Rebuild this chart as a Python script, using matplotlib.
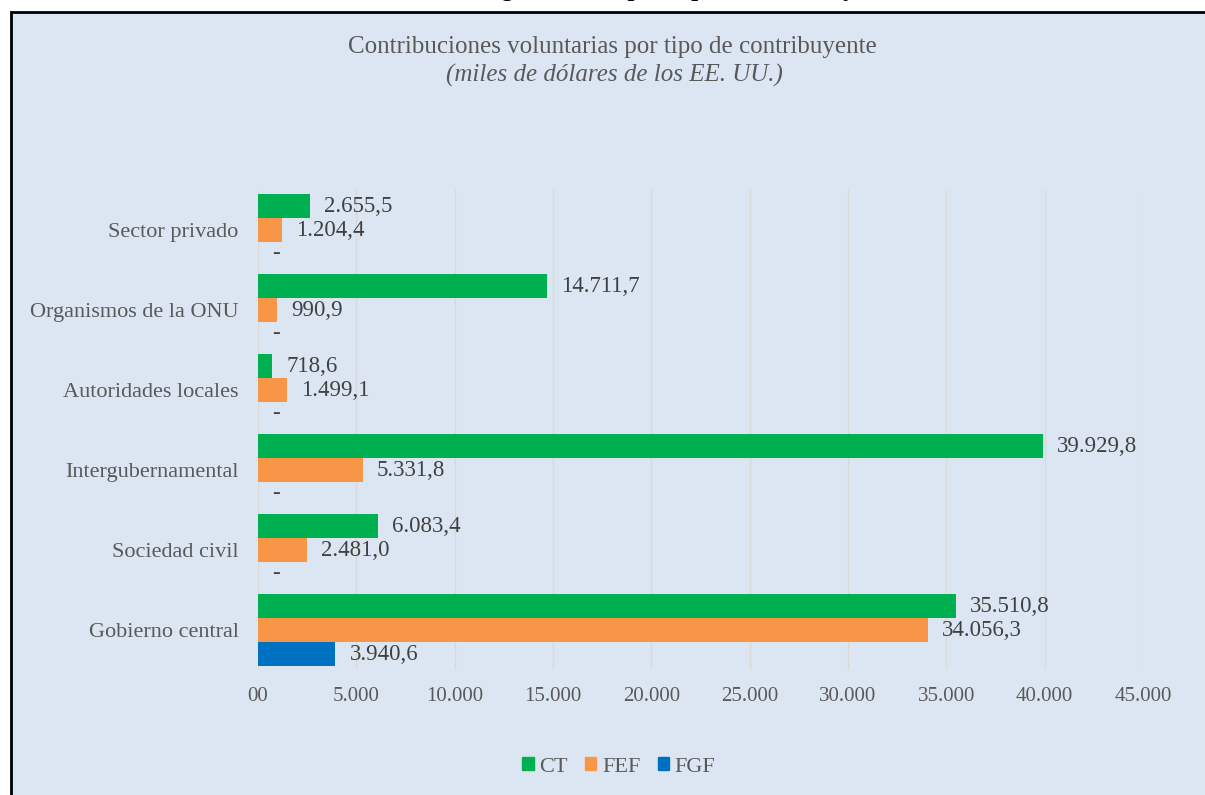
import matplotlib.pyplot as plt
from matplotlib.patches import Rectangle, Patch

plt.rcParams['font.family'] = ['Liberation Serif', 'DejaVu Serif']

categorias = ["Sector privado", "Organismos de la ONU", "Autoridades locales",
              "Intergubernamental", "Sociedad civil", "Gobierno central"]
ct = [2655.5, 14711.7, 718.6, 39929.8, 6083.4, 35510.8]
fef = [1204.4, 990.9, 1499.1, 5331.8, 2481.0, 34056.3]
fgf = [0, 0, 0, 0, 0, 3940.6]
series = [("CT", ct, "#00B050"), ("FEF", fef, "#F79646"), ("FGF", fgf, "#0070C0")]
xticks = list(range(0, 45001, 5000))


def fmt(v):
    # formato es: 1.234,5 ; cero como guion
    if v == 0:
        return "-"
    s = f"{v:,.1f}"
    return s.replace(",", "X").replace(".", ",").replace("X", ".")


def fmt_tick(v):
    if v == 0:
        return "00"
    return f"{v:,.0f}".replace(",", ".")


W, H = 1205, 795
fig = plt.figure(figsize=(W / 100, H / 100), dpi=100, facecolor="white")

# marco del grafico
fig.patches.append(Rectangle((11 / W, -0.05), 1.1, 1 - 12 / H + 0.05,
                             transform=fig.transFigure, facecolor="#DCE6F2",
                             edgecolor="black", linewidth=2, zorder=-5))

# titulo cortado de la pagina (solo asoman los trazos inferiores)
fig.text(479 / W, 1 + 4 / H, "Figura 3. Los principales contribuyentes",
         fontsize=18, fontweight="bold", color="black", ha="left", va="baseline")

ax = fig.add_axes([258 / W, 1 - 670 / H, 885 / W, 480 / H])
ax.set_facecolor("none")

h = 0.3
for i, (name, vals, col) in enumerate(series):
    ys = [k + (i - 1) * h for k in range(len(categorias))]
    ax.barh(ys, vals, height=h, color=col, label=name, zorder=3)
    for y, v in zip(ys, vals):
        ax.annotate(fmt(v), (v, y), xytext=(10, 0), textcoords="offset points",
                    va="center", ha="left", fontsize=16.5, color="#404040")

ax.set_xlim(0, 45000)
ax.set_ylim(len(categorias) - 0.5, -0.5)
ax.set_yticks(range(len(categorias)))
ax.set_yticklabels(categorias, fontsize=16, color="#595959")
ax.set_xticks(xticks)
ax.set_xticklabels([fmt_tick(v) for v in xticks], fontsize=15, color="#595959")
ax.tick_params(length=0, axis="y", pad=14)
ax.tick_params(length=0, axis="x", pad=12)
ax.grid(axis="x", color="#D9D9D9", linewidth=1, zorder=0)
for s in ax.spines.values():
    s.set_visible(False)

fig.text(612 / W, 1 - 47 / H, "Contribuciones voluntarias por tipo de contribuyente",
         fontsize=18, color="#595959", ha="center", va="center")
fig.text(614 / W, 1 - 75 / H, "(miles de dólares de los EE. UU.)",
         fontsize=18, style="italic", color="#595959", ha="center", va="center")

handles = [Patch(color=c) for _, _, c in series]
fig.legend(handles, [n for n, _, _ in series], loc="center",
           bbox_to_anchor=(619 / W, 1 - 767 / H), ncol=3, frameon=False,
           fontsize=16, handlelength=0.5, handleheight=0.5, handletextpad=0.25,
           columnspacing=0.8, labelcolor="#595959")

fig.savefig("out.png", dpi=100)
